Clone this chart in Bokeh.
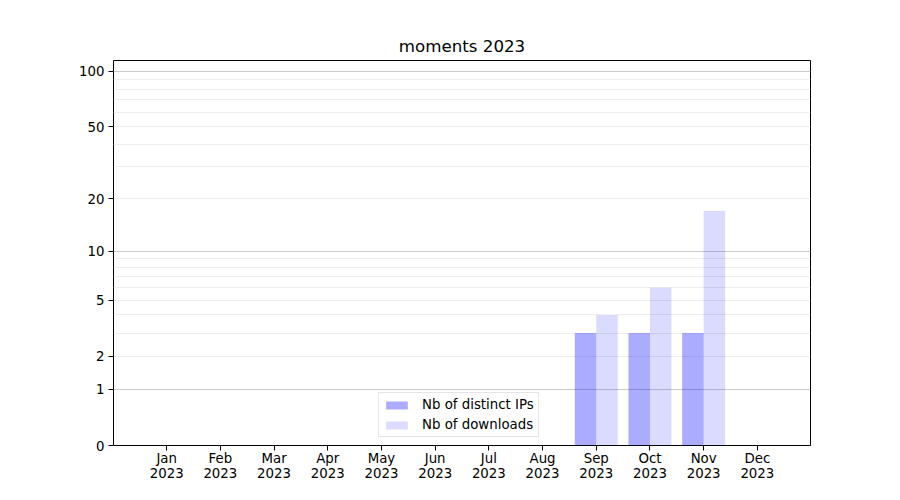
import numpy as np
from bokeh.plotting import figure
from bokeh.models import ColumnDataSource, FixedTicker, Range1d, Legend, LegendItem
from bokeh.embed import file_html
from bokeh.resources import INLINE

months = ["Jan", "Feb", "Mar", "Apr", "May", "Jun", "Jul", "Aug", "Sep", "Oct", "Nov", "Dec"]
year = "2023"
ips = [0, 0, 0, 0, 0, 0, 0, 0, 3, 3, 3, 0]
downloads = [0, 0, 0, 0, 0, 0, 0, 0, 4, 6, 17, 0]
ytick_values = [0, 1, 2, 5, 10, 20, 50, 100]
major_grid_values = [1, 10, 100]
minor_grid_values = [2, 3, 4, 5, 6, 7, 8, 9, 20, 30, 40, 50, 60, 70, 80, 90]
y_max_value = 114.2


def f(v):
    return np.log10(1.0 + np.asarray(v, dtype=float))


x = np.arange(len(months))
src = ColumnDataSource(dict(x_ip=x - 0.2, x_dl=x + 0.2, ip=f(ips), dl=f(downloads)))

p = figure(width=884, height=484, output_backend="svg", toolbar_location=None,
           x_range=Range1d(-0.99, 11.99), y_range=Range1d(0, float(f(y_max_value))),
           min_border_left=113, min_border_right=74, min_border_top=60, min_border_bottom=39,
           title="moments " + year)

p.title.text_font = "DejaVu Sans"
p.title.text_font_size = "16.67px"
p.title.text_font_style = "normal"
p.title.align = "center"
p.title.text_color = "black"

p.outline_line_color = "black"
p.outline_line_width = 1
p.background_fill_color = "white"
p.border_fill_color = "white"

r1 = p.vbar(x="x_ip", top="ip", width=0.4, bottom=0, source=src,
            fill_color="blue", fill_alpha=0.33, line_color=None)
r2 = p.vbar(x="x_dl", top="dl", width=0.4, bottom=0, source=src,
            fill_color="blue", fill_alpha=0.14, line_color=None)

# axes
p.xaxis.ticker = FixedTicker(ticks=list(x))
p.xaxis.major_label_overrides = {int(i): f"{m}\n{year}" for i, m in zip(x, months)}
p.yaxis.ticker = FixedTicker(ticks=[float(v) for v in f(ytick_values)])
p.yaxis.major_label_overrides = {float(v): str(t) for v, t in zip(f(ytick_values), ytick_values)}
for ax in (p.xaxis[0], p.yaxis[0]):
    ax.major_label_text_font = "DejaVu Sans"
    ax.major_label_text_font_size = "13.33px"
    ax.major_label_text_color = "black"
    ax.major_tick_out = 5
    ax.major_tick_in = 0
    ax.minor_tick_line_color = None
    ax.axis_line_color = None
    ax.major_tick_line_color = "black"
    ax.major_label_standoff = 4
p.xaxis.major_label_standoff = 0
p.xaxis.major_label_text_line_height = 1.05

# grid
p.xgrid.grid_line_color = None
p.ygrid.ticker = FixedTicker(ticks=[float(v) for v in f(major_grid_values)],
                             minor_ticks=[float(v) for v in f(minor_grid_values)])
p.ygrid.grid_line_color = "#cbcbcb"
p.ygrid.grid_line_width = 1
p.ygrid.minor_grid_line_color = "#ededed"
p.ygrid.minor_grid_line_width = 1

legend = Legend(items=[LegendItem(label="Nb of distinct IPs", renderers=[r1]),
                       LegendItem(label="Nb of downloads", renderers=[r2])],
                location=(265, 8))
legend.label_text_font = "DejaVu Sans"
legend.label_text_font_size = "13.33px"
legend.label_text_color = "black"
legend.glyph_width = 27
legend.glyph_height = 10
legend.label_standoff = 12
legend.spacing = 5
legend.padding = 4
legend.margin = 0
legend.border_line_color = "#cccccc"
legend.background_fill_alpha = 0.8
p.add_layout(legend, "center")

open("out.html", "w").write(file_html(p, INLINE))
